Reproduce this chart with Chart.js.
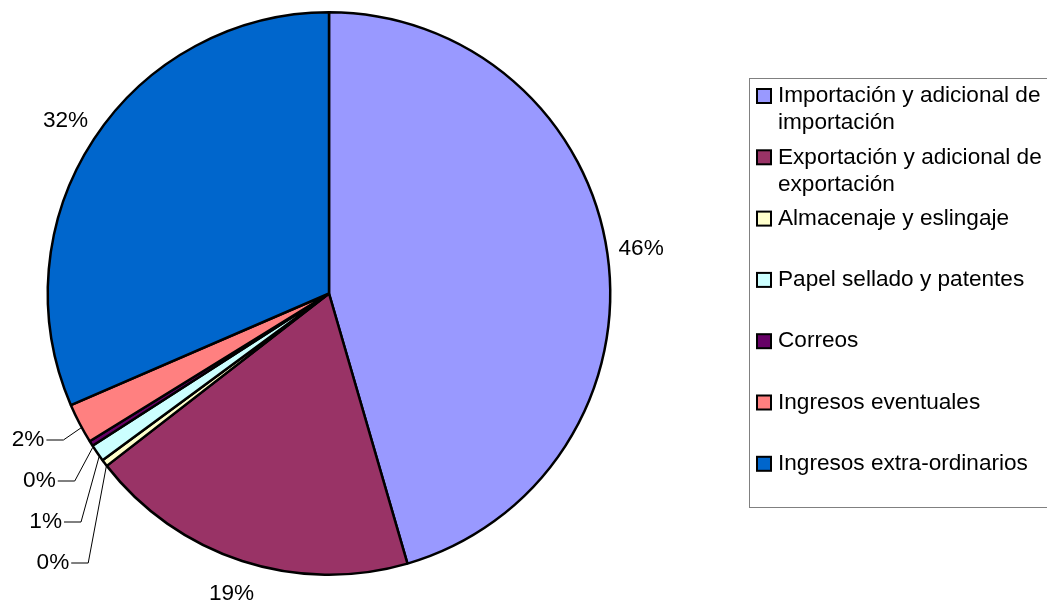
<!DOCTYPE html>
<html>
<head>
<meta charset="utf-8">
<script src="https://cdn.jsdelivr.net/npm/chart.js@4.4.1/dist/chart.umd.min.js"></script>
<style>
  html, body { margin: 0; padding: 0; background: #fff; }
  #wrap { width: 1047px; height: 605px; position: relative; }
</style>
</head>
<body>
<div id="wrap"><canvas id="pie"></canvas></div>
<script>
// Categories and shares (%)
const categories = [
    'Importación y adicional de importación',
    'Exportación y adicional de exportación',
    'Almacenaje y eslingaje',
    'Papel sellado y patentes',
    'Correos',
    'Ingresos eventuales',
    'Ingresos extra-ordinarios'
];
const shares = [45.5, 19.0, 0.4, 1.0, 0.3, 2.3, 31.5];
const colors = ['#9999FF', '#993366', '#FFFFCC', '#CCFFFF', '#660066', '#FF8080', '#0066CC'];

const FONT = '22.6px "Liberation Sans", Arial, sans-serif';

// percentage labels, small slices get stacked labels with leader lines
const sliceLabels = {
    id: 'sliceLabels',
    afterDatasetsDraw(chart) {
        const ctx = chart.ctx;
        const arcs = chart.getDatasetMeta(0).data;
        const total = shares.reduce((a, b) => a + b, 0);
        ctx.save();
        ctx.font = FONT;
        ctx.fillStyle = '#000';
        ctx.textBaseline = 'middle';

        const small = [];
        arcs.forEach((arc, i) => {
            const p = arc.getProps(['x', 'y', 'startAngle', 'endAngle', 'outerRadius'], true);
            const mid = (p.startAngle + p.endAngle) / 2;
            const txt = Math.round(shares[i] / total * 100) + '%';
            if (shares[i] < 3) {
                small.push({ p, mid, txt });
                return;
            }
            const r = p.outerRadius + 34;
            ctx.textAlign = 'center';
            ctx.fillText(txt, p.x + Math.cos(mid) * r, p.y + Math.sin(mid) * r);
        });

        // stack small labels from the last slice backwards
        small.sort((a, b) => b.mid - a.mid);
        ctx.strokeStyle = '#000';
        ctx.lineWidth = 1;
        small.forEach((s, k) => {
            const px = s.p.x + Math.cos(s.mid) * (s.p.outerRadius - 2);
            const py = s.p.y + Math.sin(s.mid) * (s.p.outerRadius - 2) + 5;
            const ly = s.p.y + 146.5 + k * 41;
            const ex = px - 18;
            const hx = ex - 17;
            ctx.beginPath();
            ctx.moveTo(px, py);
            ctx.lineTo(ex, ly);
            ctx.lineTo(hx, ly);
            ctx.stroke();
            ctx.textAlign = 'right';
            ctx.fillText(s.txt, hx - 2, ly);
        });
        ctx.restore();
    }
};

// boxed legend on the right
const boxLegend = {
    id: 'boxLegend',
    afterDraw(chart) {
        const ctx = chart.ctx;
        const left = 749, top = 78, bottom = 507;
        const rowTop = 96, rowStep = 61.3, lineH = 27, maxW = 268;
        ctx.save();
        ctx.strokeStyle = '#808080';
        ctx.lineWidth = 1;
        ctx.strokeRect(left + 0.5, top + 0.5, 400, bottom - top);

        ctx.font = FONT;
        ctx.textBaseline = 'middle';
        ctx.textAlign = 'left';
        categories.forEach((label, i) => {
            const y = rowTop + i * rowStep;
            ctx.fillStyle = colors[i];
            ctx.fillRect(757, y - 7, 14, 14);
            ctx.strokeStyle = '#000';
            ctx.lineWidth = 2;
            ctx.strokeRect(757, y - 7, 14, 14);

            // wrap words into lines
            const words = label.split(' ');
            const lines = [];
            let cur = '';
            words.forEach(w => {
                const test = cur ? cur + ' ' + w : w;
                if (ctx.measureText(test).width > maxW && cur) {
                    lines.push(cur);
                    cur = w;
                } else {
                    cur = test;
                }
            });
            lines.push(cur);
            ctx.fillStyle = '#000';
            lines.forEach((ln, j) => ctx.fillText(ln, 778, y + j * lineH));
        });
        ctx.restore();
    }
};

new Chart(document.getElementById('pie'), {
    type: 'pie',
    data: {
        labels: categories,
        datasets: [{
            data: shares,
            backgroundColor: colors,
            borderColor: '#000',
            borderWidth: 2.5
        }]
    },
    options: {
        responsive: true,
        maintainAspectRatio: false,
        animation: false,
        layout: { padding: { left: 46, top: 11, right: 435, bottom: 29 } },
        plugins: {
            legend: { display: false },
            tooltip: { enabled: false }
        }
    },
    plugins: [sliceLabels, boxLegend]
});
</script>
</body>
</html>
